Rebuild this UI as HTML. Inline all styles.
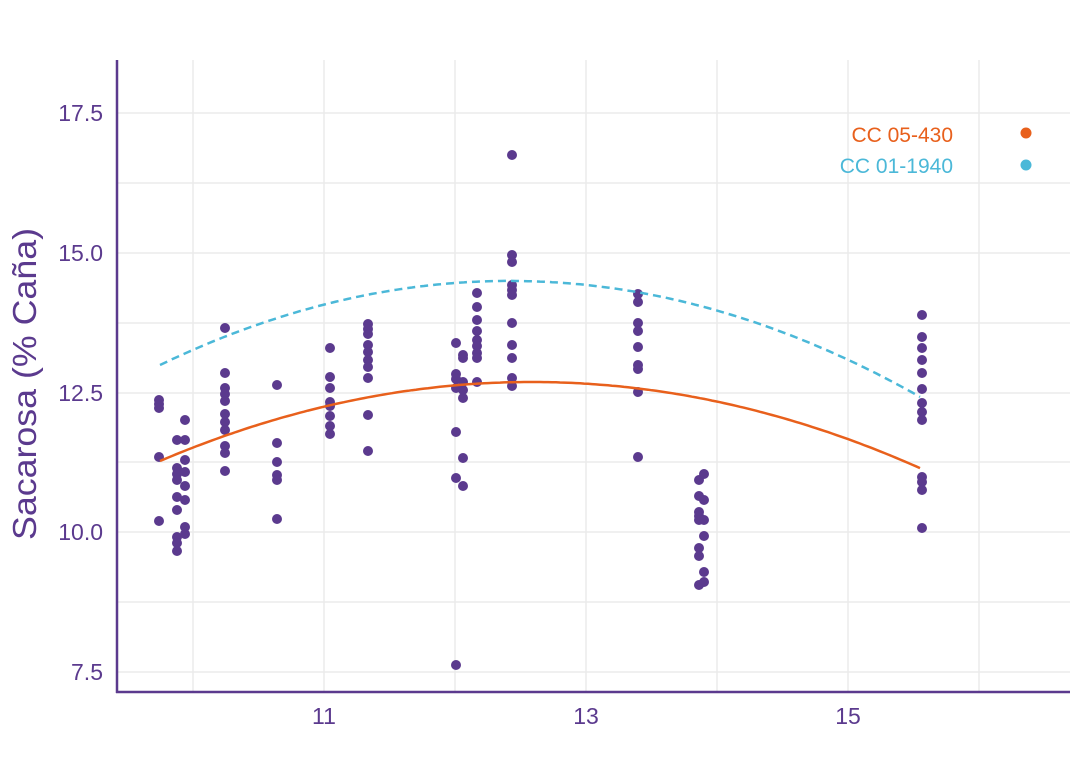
<!DOCTYPE html>
<html><head><meta charset="utf-8"><style>
body{margin:0;background:#fff;}
svg{display:block;font-family:"Liberation Sans",sans-serif;}
</style></head><body>
<svg id="s" width="1080" height="784" xmlns="http://www.w3.org/2000/svg">
<g stroke="#ebebeb" stroke-width="1.5">
<line x1="117" x2="1070" y1="113" y2="113"/><line x1="117" x2="1070" y1="183" y2="183"/>
<line x1="117" x2="1070" y1="253" y2="253"/><line x1="117" x2="1070" y1="323" y2="323"/>
<line x1="117" x2="1070" y1="393" y2="393"/><line x1="117" x2="1070" y1="462" y2="462"/>
<line x1="117" x2="1070" y1="532" y2="532"/><line x1="117" x2="1070" y1="602" y2="602"/>
<line x1="117" x2="1070" y1="672" y2="672"/>
<line y1="60" y2="692" x1="193" x2="193"/><line y1="60" y2="692" x1="324" x2="324"/>
<line y1="60" y2="692" x1="455" x2="455"/><line y1="60" y2="692" x1="586" x2="586"/>
<line y1="60" y2="692" x1="717" x2="717"/><line y1="60" y2="692" x1="848" x2="848"/>
<line y1="60" y2="692" x1="979" x2="979"/>
</g>
<g stroke="#5b3a8e" stroke-width="2.5"><line x1="117" y1="60" x2="117" y2="693"/><line x1="116" y1="692" x2="1070" y2="692"/></g>
<g fill="#5b3a8e" font-size="23" text-anchor="end">
<text x="103" y="121">17.5</text><text x="103" y="261">15.0</text><text x="103" y="401">12.5</text>
<text x="103" y="540">10.0</text><text x="103" y="680">7.5</text></g>
<g fill="#5b3a8e" font-size="23" text-anchor="middle">
<text x="324" y="724">11</text><text x="586" y="724">13</text><text x="848" y="724">15</text></g>
<text transform="translate(36,384) rotate(-90)" fill="#5b3a8e" font-size="33" text-anchor="middle" textLength="312" lengthAdjust="spacingAndGlyphs">Sacarosa (% Caña)</text>
<g id="pts" fill="#5b3a8e"></g>
<path id="o" fill="none" stroke="#e8601c" stroke-width="2.5"/>
<path id="b" fill="none" stroke="#4bb8d8" stroke-width="2.5" stroke-dasharray="8,5"/>
<text x="953" y="142" fill="#e8601c" font-size="21" text-anchor="end">CC 05-430</text>
<text x="953" y="173" fill="#4bb8d8" font-size="21" text-anchor="end">CC 01-1940</text>
<circle cx="1026" cy="133" r="5.5" fill="#e8601c"/><circle cx="1026" cy="165" r="5.5" fill="#4bb8d8"/>
</svg>
<script>
var cols={159:[400,404,408,457,521],177:[440,468,474,480,497,510,537,543,551],185:[420,440,460,472,486,500,527,534],225:[328,373,388,394,401,414,422,430,446,453,471],277:[385,443,462,475,480,519],330:[348,377,388,402,406,416,426,434],368:[324,329,334,345,352,360,367,378,415,451],456:[343,374,379,388,432,478,665],463:[355,358,382,390,398,458,486],477:[293,307,320,331,340,346,353,358,382],512:[155,255,262,285,290,295,323,345,358,378,386],638:[294,302,323,331,347,365,369,392,457],699:[480,496,512,516,520,548,556,585],704:[474,500,520,536,572,582],922:[315,337,348,360,373,389,403,412,420,477,482,490,528]};
var g=document.getElementById('pts'),h='';
for(var x in cols)cols[x].forEach(function(y){h+='<circle cx="'+x+'" cy="'+y+'" r="5"/>';});
g.innerHTML=h;
function curve(id,p){var d='';for(var x=160;x<=922;x+=4){var y=0;for(var i=0;i<3;i++){var t=p[i][1];for(var j=0;j<3;j++)if(j!=i)t*=(x-p[j][0])/(p[i][0]-p[j][0]);y+=t;}d+=(d?'L':'M')+x+','+y.toFixed(1);}document.getElementById(id).setAttribute('d',d);}
curve('o',[[160,461],[530,382],[922,469]]);
curve('b',[[160,365],[520,281],[922,398]]);
</script>
</body></html>
